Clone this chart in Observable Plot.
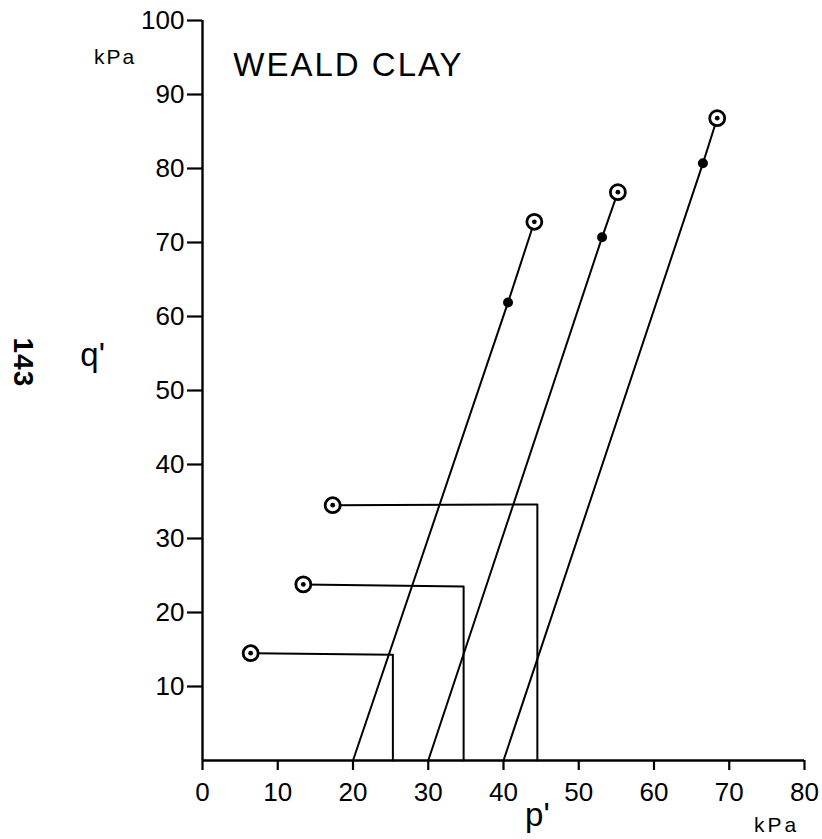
<!DOCTYPE html>
<html>
<head>
<meta charset="utf-8">
<script src="https://cdn.jsdelivr.net/npm/d3@7"></script>
<script src="https://cdn.jsdelivr.net/npm/@observablehq/plot@0.6"></script>
<style>
  html, body { margin: 0; padding: 0; background: #fff; }
  #chart { width: 822px; height: 839px; }
</style>
</head>
<body>
<div id="chart"></div>
<script>
// ---- Data ----
const xTicks = [0, 10, 20, 30, 40, 50, 60, 70, 80];
const yTicks = [10, 20, 30, 40, 50, 60, 70, 80, 90, 100];

// Inclined stress paths: start on the p' axis, filled dot, ringed end point
const pathStartP = [20, 30, 40];
const pathStartQ = [0, 0, 0];
const dotP = [40.6, 53.1, 66.5];
const dotQ = [61.9, 70.7, 80.7];
const endP = [44.1, 55.2, 68.4];
const endQ = [72.8, 76.8, 86.8];

// Unloading paths: start on p' axis, up, then left to ringed point
const unloadBaseP = [25.3, 34.7, 44.5];
const unloadCornerQ = [14.3, 23.5, 34.6];
const ringP = [6.4, 13.4, 17.3];
const ringQ = [14.5, 23.8, 34.5];

// Text labels
const labelText = ["WEALD CLAY", "kPa", "q'", "143", "p'", "kPa"];
const labelP = [4.1, -11.6, -14.6, -23.9, 44.5, 76.3];
const labelQ = [93.9, 95.0, 54.8, 53.8, -7.4, -8.8];

// ---- Build tables ----
const inclined = [];
pathStartP.forEach((p, i) => {
  inclined.push({id: i, p: p, q: pathStartQ[i]});
  inclined.push({id: i, p: dotP[i], q: dotQ[i]});
  inclined.push({id: i, p: endP[i], q: endQ[i]});
});
const unload = [];
unloadBaseP.forEach((p, i) => {
  unload.push({id: i, p: p, q: 0});
  unload.push({id: i, p: p, q: unloadCornerQ[i]});
  unload.push({id: i, p: ringP[i], q: ringQ[i]});
});
const ringed = endP.map((p, i) => ({p, q: endQ[i]}))
  .concat(ringP.map((p, i) => ({p, q: ringQ[i]})));
const dots = dotP.map((p, i) => ({p, q: dotQ[i]}));
const labels = labelText.map((t, i) => ({text: t, p: labelP[i], q: labelQ[i]}));

const styles = [
  {size: 33, anchor: "start", rotate: 0, weight: "normal", spacing: 2},
  {size: 21, anchor: "middle", rotate: 0, weight: "normal", spacing: 2},
  {size: 33, anchor: "middle", rotate: 0, weight: "normal", spacing: 0},
  {size: 28, anchor: "middle", rotate: 90, weight: "bold", spacing: 1},
  {size: 33, anchor: "middle", rotate: 0, weight: "normal", spacing: 0},
  {size: 21, anchor: "middle", rotate: 0, weight: "normal", spacing: 3}
];

const FONT = "Liberation Sans, Arial, sans-serif";

const chart = Plot.plot({
  width: 822,
  height: 839,
  marginLeft: 202,
  marginRight: 18,
  marginTop: 20,
  marginBottom: 79,
  x: {domain: [0, 80]},
  y: {domain: [0, 100]},
  style: {fontFamily: FONT, color: "#000", background: "#fff"},
  marks: [
    Plot.ruleY([0], {stroke: "#000", strokeWidth: 2.4}),
    Plot.ruleX([0], {stroke: "#000", strokeWidth: 2.4}),
    Plot.axisX({ticks: xTicks, tickSize: 10, tickPadding: 12, fontSize: 26, fontFamily: FONT, tickFormat: d => String(d), strokeWidth: 2.2, label: null}),
    Plot.axisY({ticks: yTicks, tickSize: 15, tickPadding: 3, fontSize: 26, fontFamily: FONT, tickFormat: d => String(d), strokeWidth: 2.2, label: null}),
    Plot.line(inclined, {x: "p", y: "q", z: "id", stroke: "#000", strokeWidth: 2}),
    Plot.line(unload, {x: "p", y: "q", z: "id", stroke: "#000", strokeWidth: 2}),
    Plot.dot(ringed, {x: "p", y: "q", r: 7.5, fill: "#fff", stroke: "#000", strokeWidth: 2.8}),
    Plot.dot(ringed, {x: "p", y: "q", r: 2.4, fill: "#000"}),
    Plot.dot(dots, {x: "p", y: "q", r: 5, fill: "#000"}),
    ...labels.map((l, i) => Plot.text([l], {
      x: "p", y: "q", text: "text", fontSize: styles[i].size, textAnchor: styles[i].anchor,
      rotate: styles[i].rotate, fontWeight: styles[i].weight, fontFamily: FONT, fill: "#000",
      className: "lbl" + i
    }))
  ]
});
styles.forEach((s, i) => {
  d3.select(chart).selectAll(".lbl" + i + " text").attr("letter-spacing", s.spacing + "px");
});
document.getElementById("chart").appendChild(chart);
</script>
</body>
</html>
